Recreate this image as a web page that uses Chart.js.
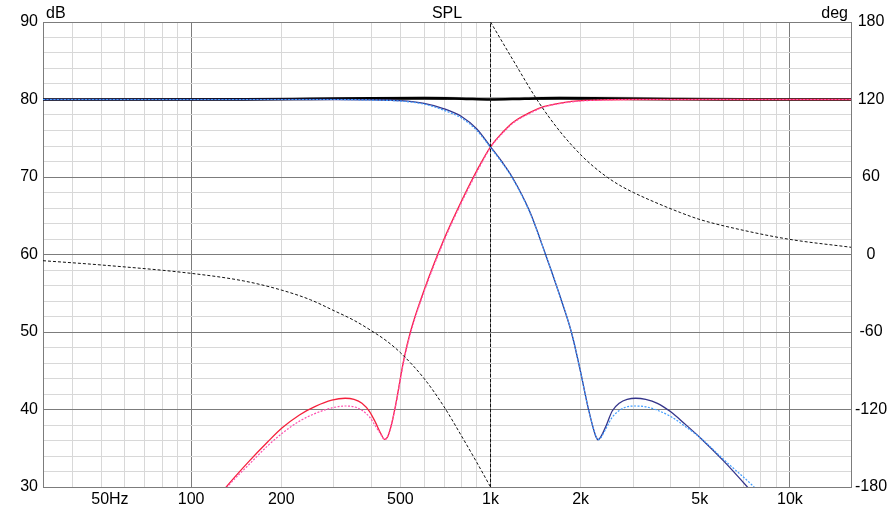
<!DOCTYPE html>
<html>
<head>
<meta charset="utf-8">
<script src="https://cdn.jsdelivr.net/npm/chart.js@4.4.1/dist/chart.umd.min.js"></script>
<style>
  html, body { margin: 0; padding: 0; background: #fff; }
  #wrap { width: 895px; height: 506px; }
</style>
</head>
<body>
<div id="wrap"><canvas id="c" width="895" height="506"></canvas></div>
<script>
// low-pass (woofer) - dark solid and light dotted
const lpFreq = [32, 300, 400, 500, 600, 700, 800, 900, 1000, 1090, 1181, 1350, 1527, 1700, 1862, 1990, 2119, 2200, 2250, 2285, 2330, 2427, 2550, 2700, 2860, 3055, 3300, 3609, 4000, 4440, 5035, 6026, 7210, 8000];
const lpDb   = [80, 80, 79.95, 79.85, 79.5, 78.8, 77.8, 76.2, 73.9, 72.0, 70.0, 65.6, 60.0, 54.8, 50.0, 45.2, 40.2, 37.7, 36.5, 36.1, 36.4, 37.8, 39.8, 40.85, 41.3, 41.45, 41.3, 40.8, 39.7, 38.2, 36.3, 33.3, 30.0, 28.0];
const lpAltFreq = [32, 300, 400, 500, 600, 700, 800, 900, 1000, 1090, 1181, 1350, 1527, 1700, 1862, 1990, 2119, 2200, 2250, 2285, 2330, 2427, 2550, 2700, 2860, 3055, 3300, 3609, 4000, 4440, 5035, 6026, 7590, 8300];
const lpAltDb   = [80, 80, 79.93, 79.8, 79.4, 78.6, 77.6, 76.0, 73.8, 71.9, 69.9, 65.5, 60.0, 54.8, 50.0, 45.2, 40.2, 37.7, 36.5, 36.1, 36.3, 37.5, 39.0, 39.9, 40.35, 40.45, 40.35, 39.9, 39.1, 37.9, 36.3, 33.5, 30.0, 28.4];

// high-pass (tweeter) - red solid and pink dotted
const hpFreq = [120, 131, 156, 180, 201, 230, 260, 295, 327, 350, 372, 395, 412, 430, 442, 452, 465, 481, 513, 540, 600, 698, 800, 902, 1000, 1100, 1194, 1350, 1503, 1750, 2000, 2500, 3000, 16000];
const hpDb   = [28.1, 30.0, 33.3, 35.8, 37.6, 39.3, 40.4, 41.2, 41.45, 41.3, 40.8, 39.7, 38.4, 36.9, 36.15, 36.4, 37.8, 40.4, 46.4, 50.0, 55.4, 61.9, 66.9, 70.9, 73.9, 75.8, 77.1, 78.3, 79.07, 79.6, 79.85, 79.97, 80, 80];
const hpAltFreq = [121, 132, 157, 180, 201, 230, 260, 295, 327, 350, 372, 395, 412, 430, 442, 452, 465, 481, 513, 540, 600, 698, 800, 902, 1000, 1100, 1194, 1350, 1503, 1750, 2000, 2500, 3000, 16000];
const hpAltDb   = [28.1, 30.0, 33.0, 35.3, 36.9, 38.5, 39.5, 40.2, 40.45, 40.35, 39.9, 39.0, 37.9, 36.8, 36.15, 36.4, 37.8, 40.3, 46.2, 49.8, 55.2, 61.7, 66.7, 70.7, 73.8, 75.7, 77.0, 78.2, 79.0, 79.55, 79.8, 79.95, 80, 80];

// summed response
const sumFreq = [32, 150, 250, 400, 600, 800, 1000, 1300, 1700, 2500, 4000, 6000, 16000];
const sumDb   = [80, 80.02, 80.08, 80.15, 80.18, 80.1, 80.0, 80.1, 80.18, 80.12, 80.04, 80.0, 80];
const sum2Freq = [32, 200, 400, 700, 1000, 1500, 2500, 5000, 8000, 16000];
const sum2Db   = [80, 80.05, 80.15, 80.22, 80.15, 80.2, 80.2, 80.12, 80.03, 80];

// phase of the sum (deg, right axis), wraps at 1k
const phLoFreq = [32, 50, 100, 150, 200, 250, 300, 350, 400, 450, 500, 600, 700, 800, 900, 1000];
const phLoDeg  = [-4.8, -8.1, -14.6, -20.5, -27.5, -35, -43.5, -51, -59, -67, -76, -96, -118, -140.5, -161, -180];
const phHiFreq = [1000, 1200, 1432, 1700, 2000, 2200, 2455, 2700, 3008, 3427, 4315, 5035, 7000, 10000, 16000];
const phHiDeg  = [180, 149, 119.6, 95.7, 77.3, 68.4, 59.8, 53.6, 47.9, 41.9, 32.4, 26.9, 18.7, 11.7, 5.6];
const phWrapFreq = [1000, 1000];
const phWrapDeg  = [-180, 180];

// axis labels
const xLabelVals = [50, 100, 200, 500, 1000, 2000, 5000, 10000];
const xLabelText = ['    50Hz', '100', '200', '500', '1k', '2k', '5k', '10k'];

const FONT = '"Liberation Sans", Arial, sans-serif';
const MAJOR = '#7c7c7c';
const MINOR = '#d8d8d8';

const pts = (xs, ys) => xs.map((x, i) => ({ x, y: ys[i] }));

function line(data, color, width, extra) {
  return Object.assign({
    data, borderColor: color, borderWidth: width, pointRadius: 0,
    cubicInterpolationMode: 'monotone', clip: 0, yAxisID: 'y',
  }, extra || {});
}

const headerText = {
  id: 'headerText',
  afterDraw(chart) {
    const { ctx, chartArea: a } = chart;
    ctx.save();
    ctx.font = '16px ' + FONT;
    ctx.fillStyle = '#000';
    ctx.textBaseline = 'alphabetic';
    ctx.textAlign = 'left';
    ctx.fillText('dB', a.left + 3, 17.5);
    ctx.textAlign = 'center';
    ctx.fillText('SPL', (a.left + a.right) / 2, 17.5);
    ctx.textAlign = 'right';
    ctx.fillText('deg', a.right - 3, 17.5);
    ctx.restore();
  }
};

new Chart(document.getElementById('c'), {
  type: 'line',
  data: {
    datasets: [
      line(pts(phWrapFreq, phWrapDeg), '#111', 1, { yAxisID: 'y2', borderDash: [3, 2], cubicInterpolationMode: 'default', tension: 0 }),
      line(pts(phLoFreq, phLoDeg), '#111', 1, { yAxisID: 'y2', borderDash: [3, 2] }),
      line(pts(phHiFreq, phHiDeg), '#111', 1, { yAxisID: 'y2', borderDash: [3, 2] }),
      line(pts(lpAltFreq, lpAltDb), '#3f9cff', 1.2, { borderDash: [2, 1.5] }),
      line(pts(lpFreq, lpDb), '#34348a', 1.3),
      line(pts(hpAltFreq, hpAltDb), '#ff4fb0', 1.2, { borderDash: [2, 1.5] }),
      line(pts(hpFreq, hpDb), '#f5203c', 1.3),
      line(pts(sumFreq, sumDb), '#000', 2.6),
      line(pts(sum2Freq, sum2Db), '#9a9a9a', 2.2),
    ],
  },
  options: {
    responsive: false, animation: false, devicePixelRatio: 1,
    layout: { padding: { top: 22, left: 0, right: 0, bottom: 0 } },
    plugins: { legend: { display: false }, tooltip: { enabled: false } },
    scales: {
      x: {
        type: 'logarithmic', min: 32, max: 16000,
        afterBuildTicks: s => {
          const t = [];
          for (let d = 10; d <= 10000; d *= 10)
            for (let m = 1; m <= 9; m++) {
              const v = d * m;
              if (v > 32 && v < 16000) t.push({ value: v });
            }
          s.ticks = t;
        },
        afterFit: s => { s.height = 19; },
        grid: {
          drawTicks: false,
          color: c => [100, 1000, 10000].includes(c.tick && c.tick.value) ? MAJOR : MINOR,
        },
        border: { display: true, color: MAJOR },
        ticks: {
          autoSkip: false, maxRotation: 0, padding: 3, color: '#000',
          font: { size: 16, family: FONT },
          callback: v => { const i = xLabelVals.indexOf(v); return i >= 0 ? xLabelText[i] : ''; },
        },
      },
      y: {
        position: 'left', min: 30, max: 90,
        afterFit: s => { s.width = 43; },
        grid: {
          drawTicks: false,
          color: c => (c.tick && c.tick.value % 10 === 0) ? MAJOR : MINOR,
        },
        border: { display: true, color: MAJOR },
        ticks: {
          stepSize: 2, autoSkip: false, padding: 5, color: '#000',
          font: { size: 16, family: FONT },
          callback: v => v % 10 === 0 ? v : '',
        },
      },
      y2: {
        position: 'right', min: -180, max: 180,
        afterFit: s => { s.width = 44; },
        grid: { display: false, drawTicks: false },
        border: { display: true, color: MAJOR },
        ticks: {
          stepSize: 60, autoSkip: false, padding: 4, color: '#000', crossAlign: 'center',
          font: { size: 16, family: FONT },
        },
      },
    },
  },
  plugins: [headerText],
});
</script>
</body>
</html>
